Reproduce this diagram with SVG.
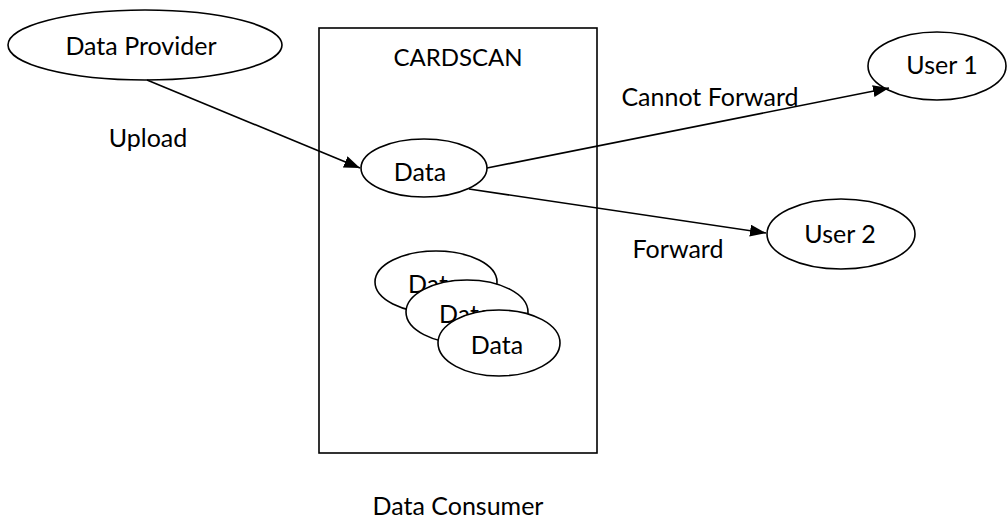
<svg xmlns="http://www.w3.org/2000/svg" width="1007" height="518" viewBox="0 0 1007 518">
  <style>
    .shape { fill: #ffffff; stroke: #000000; stroke-width: 1.6; }
    .edge { fill: none; stroke: #000000; stroke-width: 1.6; }
    text { font-family: Lato, "Liberation Sans", sans-serif; font-size: 25px; fill: #000000; }
    .mid { text-anchor: middle; }
    .small { font-size: 24px; }
  </style>
  <defs>
    <marker id="arrow" markerUnits="userSpaceOnUse" markerWidth="18" markerHeight="14" refX="16" refY="6" orient="auto">
      <path d="M0,0 L16,6 L0,12 Z" fill="#000000"/>
    </marker>
  </defs>

  <rect width="1007" height="518" fill="#ffffff"/>

  <!-- container -->
  <g id="cardscan">
    <rect class="shape" x="319" y="28" width="278" height="425"/>
    <text class="mid small" x="458" y="66">CARDSCAN</text>
  </g>

  <g id="data-provider">
    <ellipse class="shape" cx="145" cy="45" rx="137" ry="35"/>
    <text class="mid" x="141" y="55">Data Provider</text>
  </g>

  <g id="data">
    <ellipse class="shape" cx="424" cy="168" rx="63" ry="29"/>
    <text class="mid" x="420" y="181">Data</text>
  </g>

  <!-- stacked records -->
  <g id="data-stack-1">
    <ellipse class="shape" cx="436" cy="282" rx="61" ry="31"/>
    <text x="408" y="293">Data</text>
  </g>
  <g id="data-stack-2">
    <ellipse class="shape" cx="467" cy="312" rx="61" ry="32"/>
    <text x="439" y="323">Data</text>
  </g>
  <g id="data-stack-3">
    <ellipse class="shape" cx="499" cy="343" rx="61" ry="33"/>
    <text class="mid" x="497" y="354">Data</text>
  </g>

  <g id="user-1">
    <ellipse class="shape" cx="937" cy="66" rx="69" ry="34"/>
    <text class="mid" x="942" y="74">User 1</text>
  </g>

  <g id="user-2">
    <ellipse class="shape" cx="841" cy="234" rx="74" ry="35"/>
    <text class="mid" x="840" y="243">User 2</text>
  </g>

  <g id="connectors">
    <line class="edge" x1="147" y1="80" x2="360" y2="168" marker-end="url(#arrow)"/>
    <line class="edge" x1="487" y1="168" x2="889" y2="88" marker-end="url(#arrow)"/>
    <line class="edge" x1="469" y1="189" x2="766" y2="233" marker-end="url(#arrow)"/>
  </g>

  <g id="labels">
    <text class="mid" x="148" y="147">Upload</text>
    <text class="mid" x="710" y="106">Cannot Forward</text>
    <text class="mid" x="678" y="258">Forward</text>
    <text class="mid" x="458" y="515">Data Consumer</text>
  </g>
</svg>
